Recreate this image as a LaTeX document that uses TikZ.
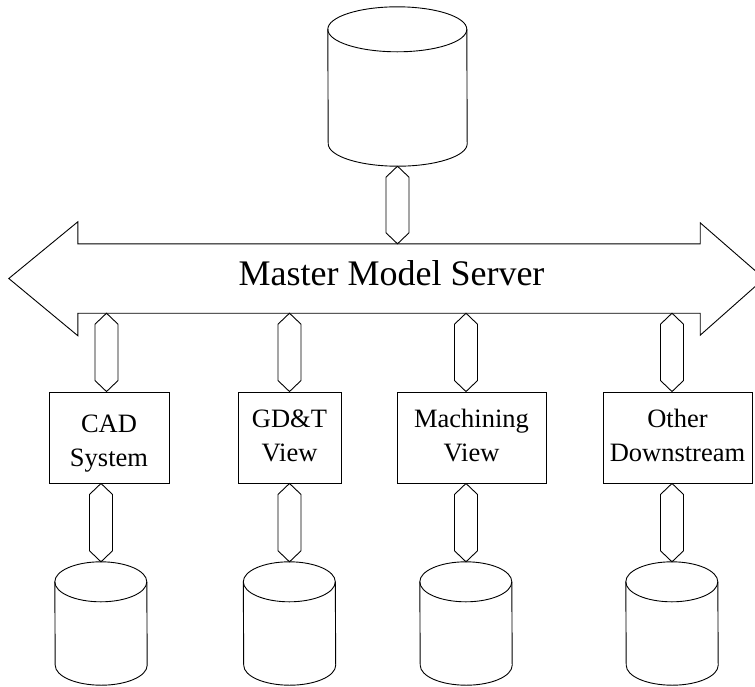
\documentclass[tikz,border=0pt]{standalone}
\usepackage{fontspec}
\setmainfont{Liberation Serif}
\usetikzlibrary{calc}
\tikzset{
  line/.style={draw=black, line width=0.9pt, line join=miter},
  block/.style={line, rectangle, minimum height=91pt, inner sep=0pt, align=center,
    font=\fontsize{26.5}{34}\selectfont},
  spot/.style={rectangle, inner sep=0pt, minimum width=92pt, minimum height=123pt},
}
\newcommand{\hexlink}[2]{\draw[line] let \p1=(#1), \p2=(#2) in
  (\p1) -- (\x1+11.5pt,\y1-11pt) -- (\x2+11.5pt,\y2+11pt) -- (\p2)
  -- (\x2-11.5pt,\y2+11pt) -- (\x1-11.5pt,\y1-11pt) -- cycle;}
\newcommand{\drum}[3]{%
  \draw[line] ($(#1.north west)+(0pt,-#3)$) arc[start angle=180,end angle=0,x radius=#2,y radius=#3]
    -- ($(#1.south east)+(0pt,#3)$) arc[start angle=0,end angle=-180,x radius=#2,y radius=#3] -- cycle;
  \draw[line] ($(#1.north west)+(0pt,-#3)$) arc[start angle=180,end angle=360,x radius=#2,y radius=#3];}
\begin{document}
\begin{tikzpicture}[x=1pt,y=-1pt]
\path[use as bounding box] (0,0) rectangle (755,686);
\clip (0,0) rectangle (755,686);

% top database
\node[spot, minimum width=139pt, minimum height=159pt] (top) at (397.5,86.5) {};
\drum{top}{69.5pt}{22.5pt}

% bus
\node[rectangle, inner sep=0pt, minimum width=622pt, minimum height=69pt] (bus) at (389,278.5) {};
\draw[line] (bus.north west) -- ++(0pt,22pt) -- ($(bus.west)+(-69pt,0pt)$)
  -- ($(bus.south west)+(0pt,-22.5pt)$) -- (bus.south west) -- (bus.south east)
  -- ++(0pt,-22pt) -- ($(bus.east)+(64pt,0pt)$) -- ($(bus.north east)+(0pt,21pt)$)
  -- (bus.north east) -- cycle;
\node[font=\fontsize{36}{40}\selectfont, inner sep=0pt] (title) at (391.5,272.7) {Master Model Server};

% boxes
\node[block, minimum width=120pt] (cad) at (109,437.5) {\rule{0pt}{34pt}CAD\\\strut System};
\node[block, minimum width=103pt] (gdt) at (289.5,437.5) {\strut GD\&T\\\strut View};
\node[block, minimum width=149pt] (mach) at (471.5,437.5) {\strut Machining\\\strut View};
\node[block, minimum width=149pt] (other) at (677.5,437.5) {\strut Other\\\strut Downstream};

% bottom databases
\node[spot] (d1) at (101,623.5) {};
\node[spot] (d2) at (289.5,623.5) {};
\node[spot] (d3) at (466,623.5) {};
\node[spot] (d4) at (672,623.5) {};
\drum{d1}{46pt}{20pt}
\drum{d2}{46pt}{20pt}
\drum{d3}{46pt}{20pt}
\drum{d4}{46pt}{20pt}

% connectors
\hexlink{top.south}{bus.north -| top.south}
\hexlink{$(bus.south -| d1.north)+(5.5pt,0pt)$}{$(cad.north -| d1.north)+(5.5pt,0pt)$}
\hexlink{bus.south -| d2.north}{gdt.north -| d2.north}
\hexlink{bus.south -| d3.north}{mach.north -| d3.north}
\hexlink{bus.south -| d4.north}{other.north -| d4.north}
\hexlink{cad.south -| d1.north}{d1.north}
\hexlink{gdt.south -| d2.north}{d2.north}
\hexlink{mach.south -| d3.north}{d3.north}
\hexlink{other.south -| d4.north}{d4.north}
\end{tikzpicture}
\end{document}
